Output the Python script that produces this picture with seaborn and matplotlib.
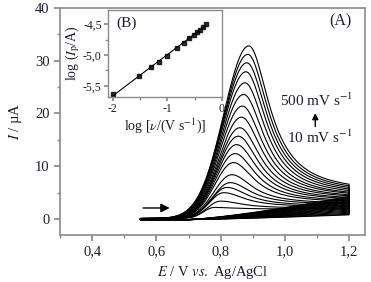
import numpy as np
import pandas as pd
import matplotlib
matplotlib.use("Agg")
import matplotlib.pyplot as plt
import seaborn as sns
from matplotlib.ticker import MultipleLocator, FuncFormatter

# ------------------------------
#   values
# ------------------------------
# main panel (A): peak of each forward sweep and end currents at 1.2 V
peak_E = [0.78, 0.80, 0.81, 0.82, 0.83, 0.835, 0.84, 0.845, 0.85, 0.855,
          0.86, 0.865, 0.868, 0.872, 0.876, 0.879, 0.882, 0.885, 0.888]
peak_I = [2.1, 3.3, 4.9, 5.9, 6.8, 8.3, 10.6, 12.3, 14.0, 15.6,
          17.2, 19.2, 21.3, 23.5, 25.7, 27.8, 29.5, 31.1, 32.7]
fwd_end = [1.8, 2.0, 2.3, 2.5, 2.8, 3.0, 3.3, 3.5, 3.8, 4.0,
           4.3, 4.5, 4.8, 5.0, 5.3, 5.6, 5.9, 6.2, 6.5]
rev_end = [0.9, 1.0, 1.2, 1.4, 1.6, 1.8, 2.0, 2.2, 2.4, 2.6,
           2.8, 3.0, 3.2, 3.4, 3.6, 3.8, 4.0, 4.2, 4.4]

# inset (B)
log_v = [-2.0, -1.52, -1.30, -1.15, -1.0, -0.82, -0.70, -0.60, -0.52,
         -0.46, -0.40, -0.35, -0.30]
log_Ip = [-5.63, -5.34, -5.20, -5.12, -5.01, -4.89, -4.80, -4.73, -4.68,
          -4.63, -4.59, -4.55, -4.50]

E_start, E_switch, E_foot = 0.55, 1.2, 0.70

# ------------------------------
#   build voltammograms (forward + reverse)
# ------------------------------
rows = []
Ef = np.linspace(E_start, E_switch, 400)
Er = Ef[::-1]
for k, (ep, ip, fe, re) in enumerate(zip(peak_E, peak_I, fwd_end, rev_end)):
    sr = 0.078
    kk = 1 / (1 + ((E_switch - ep) / sr) ** 2)
    tail = (fe - ip * kk) / (1 - kk)
    sl = 0.415 * (ep - E_foot)
    left = ip * np.exp(-0.5 * ((ep - Ef) / sl) ** 2)
    right = tail + (ip - tail) / (1 + ((Ef - ep) / sr) ** 2)
    fwd = np.where(Ef < ep, left, right) + 0.1
    rev = re * np.clip((Er - E_foot) / 0.5, 0, 1) ** 1.3 - 0.1
    E = np.concatenate([Ef, Er])
    cur = np.concatenate([fwd, rev])
    rows.append(pd.DataFrame({"E": E, "I": cur, "curve": k}))
df = pd.concat(rows, ignore_index=True)

# ------------------------------
#   plot
# ------------------------------
sns.set_theme(style="ticks")
plt.rcParams["font.family"] = ["Liberation Serif", "DejaVu Serif"]
plt.rcParams["mathtext.fontset"] = "stix"
spine_c = "#8a8a8a"
txt_c = "#1c1c30"

fig = plt.figure(figsize=(3.71, 2.82), dpi=100)
ax = fig.add_axes([0.162, 0.167, 0.822, 0.805])

sns.lineplot(data=df, x="E", y="I", units="curve", estimator=None, sort=False,
             color="black", lw=0.8, ax=ax, legend=False)

ax.set_xlim(0.30, 1.25)
ax.set_ylim(-3, 40)
ax.xaxis.set_major_locator(MultipleLocator(0.2))
ax.xaxis.set_minor_locator(MultipleLocator(0.1))
ax.yaxis.set_major_locator(MultipleLocator(10))
ax.yaxis.set_minor_locator(MultipleLocator(5))
ax.xaxis.set_major_formatter(FuncFormatter(lambda v, p: f"{v:.1f}".replace(".", ",")))
ax.yaxis.set_major_formatter(FuncFormatter(lambda v, p: f"{v:.0f}"))
for s in ax.spines.values():
    s.set_color(spine_c)
    s.set_linewidth(1.2)
ax.tick_params(which="both", direction="out", color=spine_c, labelcolor=txt_c,
               labelsize=10.5, top=False, right=False)
ax.tick_params(which="major", length=4)
ax.tick_params(which="minor", length=2.5)
ax.set_xlabel(r"$E$ / V $\mathit{vs.}$ Ag/AgCl", fontsize=10.5, color=txt_c, labelpad=4)
ax.set_ylabel(r"$I$ / µA", fontsize=10.5, color=txt_c, labelpad=8)

ax.text(0.955, 0.94, "(A)", transform=ax.transAxes, ha="right", va="center",
        fontsize=11.5, color=txt_c)
ax.text(1.10, 22.4, r"500 mV s$^{-1}$", ha="center", va="center", fontsize=11, color=txt_c)
ax.text(1.108, 15.4, r"10 mV s$^{-1}$", ha="center", va="center", fontsize=11, color=txt_c)
ax.annotate("", xy=(1.095, 20.6), xytext=(1.095, 17.0),
            arrowprops=dict(arrowstyle="-|>", color="black", lw=1, mutation_scale=9))
ax.annotate("", xy=(0.65, 2.1), xytext=(0.55, 2.1),
            arrowprops=dict(arrowstyle="-|>", color="black", lw=1, mutation_scale=13))

# inset (B)
axin = fig.add_axes([0.291, 0.656, 0.307, 0.309])
sns.regplot(x=log_v, y=log_Ip, ci=None, ax=axin, color="black", marker="s",
            scatter_kws={"s": 10}, line_kws={"lw": 0.8})
axin.set_xlim(-2.09, 0.0)
axin.set_ylim(-5.68, -4.27)
axin.xaxis.set_major_locator(MultipleLocator(1))
axin.xaxis.set_minor_locator(MultipleLocator(0.5))
axin.yaxis.set_major_locator(MultipleLocator(0.5))
axin.yaxis.set_minor_locator(MultipleLocator(0.25))
axin.xaxis.set_major_formatter(FuncFormatter(lambda v, p: f"{v:.0f}".replace("−", "-")))
axin.yaxis.set_major_formatter(FuncFormatter(lambda v, p: f"{v:.1f}".replace(".", ",")))
for s in axin.spines.values():
    s.set_color(spine_c)
    s.set_linewidth(1.0)
axin.tick_params(which="both", direction="out", color=spine_c, labelcolor=txt_c,
                 labelsize=8.5, pad=1.5)
axin.tick_params(which="major", length=3)
axin.tick_params(which="minor", length=2)
axin.set_xlabel(r"log [$\nu$/(V s$^{-1}$)]", fontsize=10, color=txt_c, labelpad=1)
axin.set_ylabel(r"log ($I_{\rm p}$/A)", fontsize=10, color=txt_c, labelpad=1)
axin.text(0.07, 0.85, "(B)", transform=axin.transAxes, ha="left", va="center",
          fontsize=11, color=txt_c)

fig.savefig("out.png", dpi=100)
